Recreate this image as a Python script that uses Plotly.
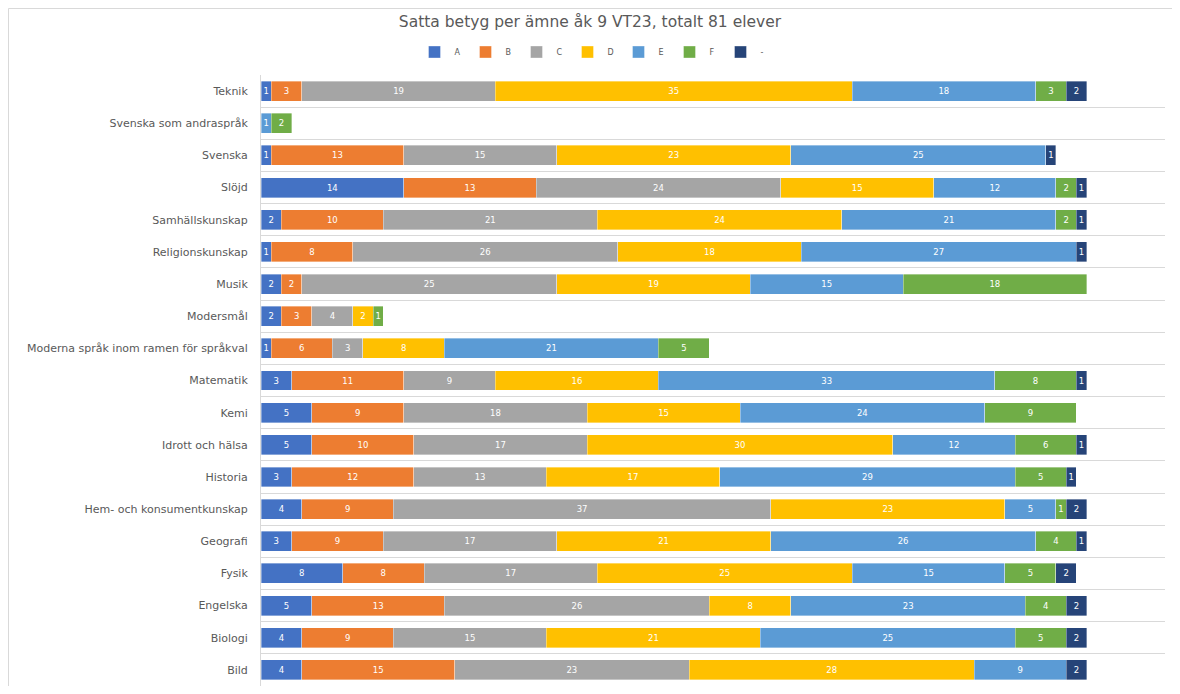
import plotly.graph_objects as go

# Categories listed bottom -> top (as in the reference)
subjects = [
    "Bild", "Biologi", "Engelska", "Fysik", "Geografi",
    "Hem- och konsumentkunskap", "Historia", "Idrott och hälsa", "Kemi",
    "Matematik", "Moderna språk inom ramen för språkval", "Modersmål",
    "Musik", "Religionskunskap", "Samhällskunskap", "Slöjd", "Svenska",
    "Svenska som andraspråk", "Teknik",
]

grade_A = [4, 4, 5, 8, 3, 4, 3, 5, 5, 3, 1, 2, 2, 1, 2, 14, 1, None, 1]
grade_B = [15, 9, 13, 8, 9, 9, 12, 10, 9, 11, 6, 3, 2, 8, 10, 13, 13, None, 3]
grade_C = [23, 15, 26, 17, 17, 37, 13, 17, 18, 9, 3, 4, 25, 26, 21, 24, 15, None, 19]
grade_D = [28, 21, 8, 25, 21, 23, 17, 30, 15, 16, 8, 2, 19, 18, 24, 15, 23, None, 35]
grade_E = [9, 25, 23, 15, 26, 5, 29, 12, 24, 33, 21, None, 15, 27, 21, 12, 25, 1, 18]
grade_F = [None, 5, 4, 5, 4, 1, 5, 6, 9, 8, 5, 1, 18, None, 2, 2, None, 2, 3]
grade_dash = [2, 2, 2, 2, 1, 2, 1, 1, None, 1, None, None, None, 1, 1, 1, 1, None, 2]

series = [
    ("A", grade_A, "#4472C4"),
    ("B", grade_B, "#ED7D31"),
    ("C", grade_C, "#A5A5A5"),
    ("D", grade_D, "#FFC000"),
    ("E", grade_E, "#5B9BD5"),
    ("F", grade_F, "#70AD47"),
    ("-", grade_dash, "#264478"),
]

title_text = "Satta betyg per ämne åk 9 VT23, totalt 81 elever"

FONT = "DejaVu Sans"
W, H = 1164, 678          # page body has an 8px margin on every side
L, R, T, B = 253, 7, 67, 0
PW, PH = W - L - R, H - T - B

fig = go.Figure()
for name, vals, color in series:
    fig.add_trace(go.Bar(
        y=subjects, x=vals, name=name, orientation="h",
        marker=dict(color=color, line=dict(color="rgba(255,255,255,0.6)", width=0.6)),
        text=[("" if v is None else str(v)) for v in vals],
        textposition="inside", insidetextanchor="middle", textangle=0,
        constraintext="none",
        insidetextfont=dict(color="white", size=8.5, family=FONT),
        hoverinfo="x+y+name",
    ))

fig.update_layout(
    barmode="stack",
    bargap=0.38,
    width=W, height=H,
    margin=dict(l=L, r=R, t=T, b=B, autoexpand=False),
    paper_bgcolor="white", plot_bgcolor="white",
    title=dict(text=title_text, x=(590 - 8) / W, xref="container", xanchor="center",
               y=1 - 14 / H, yref="container", yanchor="middle",
               font=dict(family=FONT, size=15.5, color="#595959")),
    legend=dict(orientation="h", x=(593 - 8) / W, xref="container", xanchor="center",
                y=1 - 44 / H, yref="container", yanchor="middle",
                font=dict(family=FONT, size=8, color="#595959"),
                itemwidth=30, entrywidth=6, traceorder="normal"),
    font=dict(family=FONT, color="#595959"),
    shapes=[dict(type="rect", xref="paper", yref="paper",
                 x0=(0.5 - L) / PW, x1=(W + 30 - L) / PW,
                 y0=-(B + 30) / PH, y1=1 + (T - 0.5) / PH,
                 line=dict(color="#D9D9D9", width=1), layer="below")],
)

fig.update_xaxes(range=[0, 88.7 * (PW / 904)], visible=False, showgrid=False, zeroline=False)
fig.update_yaxes(
    type="category", categoryorder="array", categoryarray=subjects,
    range=[-0.5, len(subjects) - 0.5],
    tickson="boundaries", ticks="", showgrid=True, gridcolor="#D9D9D9", gridwidth=1,
    showline=True, linecolor="#D9D9D9", linewidth=1,
    ticklabelstandoff=10,
    tickfont=dict(family=FONT, size=11, color="#595959"),
)

fig.write_html("out.html")
